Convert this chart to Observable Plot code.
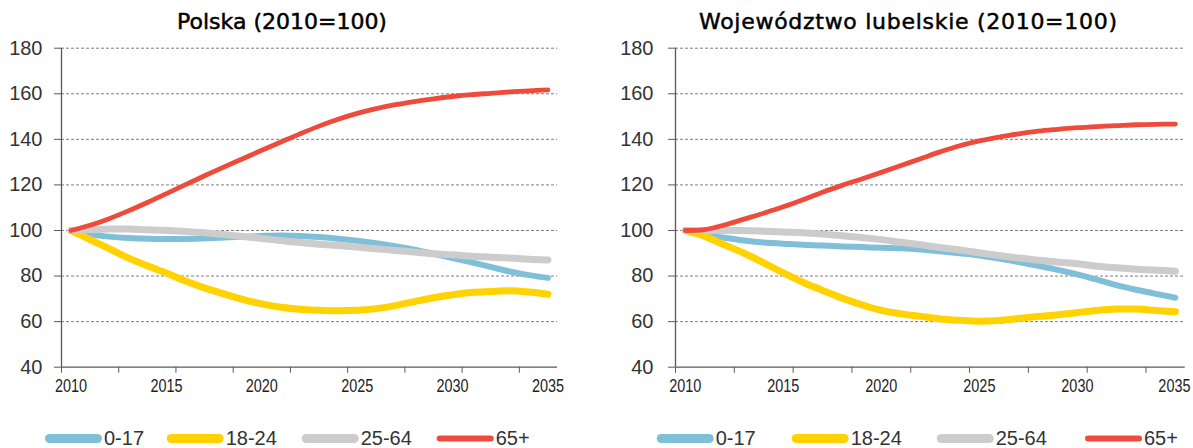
<!DOCTYPE html>
<html>
<head>
<meta charset="utf-8">
<script src="https://cdn.jsdelivr.net/npm/d3@7"></script>
<script src="https://cdn.jsdelivr.net/npm/@observablehq/plot@0.6"></script>
<style>
  html, body { margin: 0; padding: 0; background: #fff; }
  #wrap { position: relative; width: 1193px; height: 448px; overflow: hidden; background: #fff; }
  .panel { position: absolute; top: 0; }
  #overlay { position: absolute; left: 0; top: 0; pointer-events: none; }
</style>
</head>
<body>
<div id="wrap"></div>
<script>
// ---------- data ----------
const years = [2010, 2011, 2012, 2013, 2014, 2015, 2016, 2017, 2018, 2019, 2020, 2021, 2022,
               2023, 2024, 2025, 2026, 2027, 2028, 2029, 2030, 2031, 2032, 2033, 2034, 2035];

const seriesNames = ["0-17", "18-24", "25-64", "65+"];

// Polska (2010=100)
const polska0_17  = [100, 98.3, 97.3, 96.7, 96.4, 96.3, 96.3, 96.5, 96.9, 97.3, 97.6, 97.8, 97.6,
                     97.1, 96.4, 95.5, 94.4, 93.1, 91.6, 89.8, 87.9, 86.0, 84.0, 82.0, 80.4, 79.2];
const polska18_24 = [100, 96.0, 92.0, 88.0, 84.5, 81.3, 77.8, 74.8, 72.2, 69.8, 67.8, 66.3, 65.4,
                     65.0, 64.8, 65.0, 65.7, 67.0, 68.8, 70.5, 71.8, 72.8, 73.2, 73.5, 73.0, 72.0];
const polska25_64 = [100, 100.4, 100.7, 100.6, 100.3, 100.0, 99.6, 99.0, 98.2, 97.4, 96.5, 95.6, 94.7,
                     94.0, 93.4, 92.7, 92.0, 91.2, 90.5, 89.8, 89.3, 88.7, 88.3, 87.9, 87.4, 87.1];
const polska65    = [100, 102.3, 105.2, 108.6, 112.3, 116.2, 120.1, 124.0, 127.8, 131.5, 135.2, 138.8, 142.4,
                     145.8, 148.8, 151.4, 153.5, 155.2, 156.6, 157.8, 158.8, 159.6, 160.2, 160.8, 161.3, 161.7];

// Województwo lubelskie (2010=100)
const lubelskie0_17  = [100, 98.2, 96.8, 95.6, 94.7, 94.2, 93.7, 93.4, 93.0, 92.7, 92.4, 92.2, 91.7,
                        90.9, 90.0, 89.0, 87.7, 86.1, 84.5, 82.7, 80.7, 78.4, 76.0, 74.0, 72.2, 70.5];
const lubelskie18_24 = [100, 97.4, 93.7, 90.0, 85.8, 81.4, 77.3, 73.7, 70.3, 67.4, 64.9, 63.4, 62.3,
                        61.2, 60.6, 60.2, 60.5, 61.4, 62.3, 63.0, 64.0, 64.9, 65.5, 65.5, 64.9, 64.3];
const lubelskie25_64 = [100, 100, 100, 100, 99.7, 99.3, 99.0, 98.4, 97.7, 96.9, 96.0, 94.8, 93.7,
                        92.5, 91.4, 90.2, 89.0, 87.9, 87.0, 86.1, 85.4, 84.3, 83.6, 83.0, 82.6, 82.1];
const lubelskie65    = [100, 100.4, 102.4, 105.0, 107.6, 110.4, 113.5, 116.8, 119.8, 122.6, 125.5, 128.5, 131.5,
                        134.5, 137.2, 139.3, 141.0, 142.4, 143.6, 144.4, 145.1, 145.6, 146.0, 146.4, 146.6, 146.7];

const titles = ["Polska (2010=100)", "Województwo lubelskie (2010=100)"];

// axis ticks
const yTicks = [40, 60, 80, 100, 120, 140, 160, 180];
const gridValues = [60, 80, 100, 120, 140, 160, 180];
const xLabelYears = [2010, 2015, 2020, 2025, 2030, 2035];
const xTickMarks = [2009.5, 2012.5, 2015.5, 2018.5, 2021.5, 2024.5, 2027.5, 2030.5, 2033.5];
const xDomain = [2009.5, 2035.5];
const yDomain = [40, 180];

// ---------- styles ----------
const seriesColors = ["#7fc0d8", "#ffd200", "#cccccc", "#ef4b3d"];
const seriesWidths = [6, 7, 7, 4.8];
const legendWidths = [9, 9, 9, 6];
const axisColor = "#595959";
const labelFont = "'Liberation Sans', Arial, sans-serif";

function makePanel(seriesValues, cfg) {
  const marks = [
    Plot.ruleY(gridValues, {stroke: "#7f7f7f", strokeWidth: 1, strokeDasharray: "3,2"}),
    Plot.axisY(yTicks, {anchor: "left", tickSize: 7, tickPadding: cfg.yPad, stroke: axisColor,
                        color: "#333", fontSize: 20, label: null}),
    Plot.axisX(xTickMarks, {anchor: "bottom", tickSize: 6, tickFormat: () => "", stroke: axisColor, label: null}),
    Plot.axisX(xLabelYears, {anchor: "bottom", tickSize: 0, tickPadding: 11.3, tickFormat: d => String(d),
                             fontSize: 18.5, color: "#222", label: null}),
    Plot.ruleX([xDomain[0]], {stroke: axisColor, strokeWidth: 1.3}),
    Plot.ruleY([yDomain[0]], {stroke: axisColor, strokeWidth: 1.3})
  ];
  seriesValues.forEach((vals, i) => {
    const rows = years.map((y, j) => ({year: y, value: vals[j], group: seriesNames[i]}));
    marks.push(Plot.line(rows, {
      x: "year", y: "value", stroke: seriesColors[i], strokeWidth: seriesWidths[i],
      curve: "catmull-rom", strokeLinecap: "round", strokeLinejoin: "round"
    }));
  });
  const svg = Plot.plot({
    width: cfg.width, height: 400,
    marginLeft: cfg.marginLeft, marginRight: cfg.marginRight,
    marginTop: 47.7, marginBottom: 33.3,
    x: {domain: xDomain},
    y: {domain: yDomain},
    style: {fontFamily: labelFont, background: "transparent", overflow: "visible"},
    marks
  });
  svg.classList.add("panel");
  svg.style.left = cfg.left + "px";
  // condensed x tick labels, as in the source (horizontal squeeze of each label)
  const labels = Array.from(svg.querySelectorAll('g[aria-label="x-axis tick label"] text'))
    .filter(t => t.textContent.trim() !== "");
  labels.forEach((t, k) => {
    const tr = t.getAttribute("transform") || "";
    const shift = (cfg.lastShift && k === labels.length - 1) ? ` translate(${cfg.lastShift},0)` : "";
    t.setAttribute("transform", tr + shift + " scale(0.78,1)");
  });
  return svg;
}

const wrap = document.getElementById("wrap");
wrap.appendChild(makePanel([polska0_17, polska18_24, polska25_64, polska65],
  {left: 0, width: 600, marginLeft: 61, marginRight: 43, yPad: 12}));
wrap.appendChild(makePanel([lubelskie0_17, lubelskie18_24, lubelskie25_64, lubelskie65],
  {left: 600, width: 593, marginLeft: 75, marginRight: 8.3, yPad: 15, lastShift: -1}));

// ---------- titles & legends ----------
const overlay = d3.select(wrap).append("svg")
  .attr("id", "overlay").attr("width", 1193).attr("height", 448);

const titleCenters = [282, 908];
const titleLengths = [null, 418];
titles.forEach((t, i) => {
  const txt = overlay.append("text")
    .attr("x", titleCenters[i]).attr("y", 29)
    .attr("text-anchor", "middle")
    .attr("font-family", "'DejaVu Sans', sans-serif")
    .attr("font-size", 22)
    .attr("fill", "#000")
    .attr("stroke", "#000").attr("stroke-width", 0.5)
    .text(t);
  if (titleLengths[i]) {
    txt.attr("textLength", titleLengths[i]).attr("lengthAdjust", "spacing");
  }
});

const legendStarts = [[45, 166.7, 301.7, 436.7], [656.7, 791.7, 936.7, 1085]];
legendStarts.forEach(starts => {
  starts.forEach((x0, i) => {
    overlay.append("line")
      .attr("x1", x0 + legendWidths[i] / 2).attr("x2", x0 + 57 - legendWidths[i] / 2)
      .attr("y1", 438.5).attr("y2", 438.5)
      .attr("stroke", seriesColors[i]).attr("stroke-width", legendWidths[i])
      .attr("stroke-linecap", "round");
    overlay.append("text")
      .attr("x", x0 + 59).attr("y", 444.6)
      .attr("font-family", labelFont).attr("font-size", 20).attr("fill", "#333")
      .text(seriesNames[i]);
  });
});
</script>
</body>
</html>
